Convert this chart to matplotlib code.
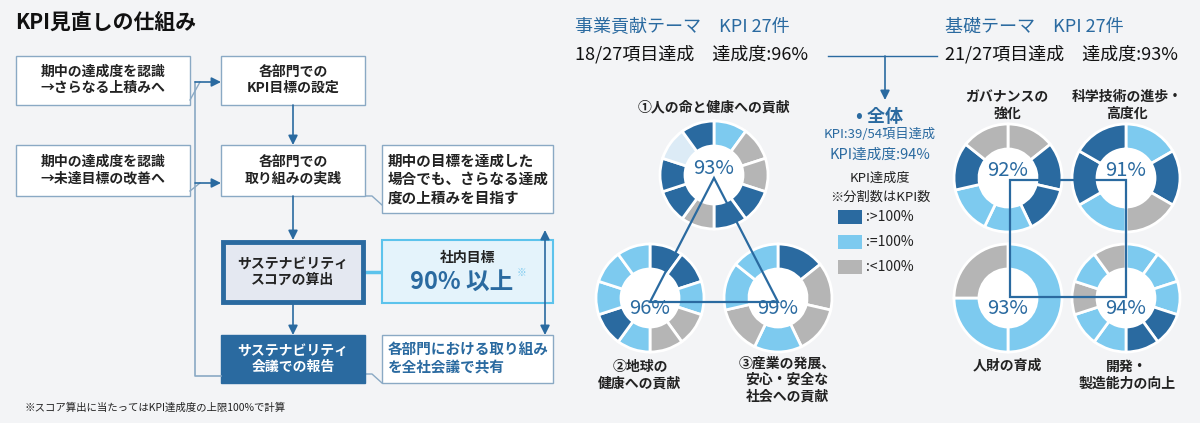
import matplotlib
matplotlib.use("Agg")
import matplotlib.pyplot as plt
from matplotlib.patches import Wedge, Rectangle, FancyArrowPatch, Polygon

FONT = "Noto Sans CJK JP"
plt.rcParams["font.family"] = FONT

DARK, LIGHT, GRAY, PALE = "#2a6aa0", "#7dcaef", "#b5b5b5", "#dcebf6"
BLUE = "#2a6aa0"
CMAP = {"d": DARK, "l": LIGHT, "g": GRAY, "p": PALE}

# ---- data ----
donut_names = ["①人の命と健康への貢献", "②地球の\n健康への貢献", "③産業の発展、\n安心・安全な\n社会への貢献",
               "ガバナンスの\n強化", "科学技術の進歩・\n高度化", "人財の育成", "開発・\n製造能力の向上"]
donut_pct = ["93%", "96%", "99%", "92%", "91%", "93%", "94%"]
# segment classes clockwise from 12 o'clock (d: >100%, l: =100%, g: <100%, p: n/a)
donut_segments = [
    ["l", "g", "g", "d", "d", "g", "d", "d", "p", "d"],
    ["d", "d", "l", "g", "g", "l", "d", "l", "l", "l"],
    ["d", "g", "g", "l", "g", "l", "l"],
    ["g", "d", "d", "l", "l", "d", "g"],
    ["l", "d", "g", "l", "d", "d"],
    ["l", "l", "g"],
    ["l", "l", "l", "d", "d", "l", "l", "g", "l", "g"],
]
donut_weights = [None, None, None, None, None, [2, 1, 1], None]
legend_labels = [":>100%", ":=100%", ":<100%"]

fig = plt.figure(figsize=(12, 4.23), dpi=100)
fig.patch.set_facecolor("#f3f4f6")
ax = fig.add_axes([0, 0, 1, 1])
ax.set_xlim(0, 1200); ax.set_ylim(423, 0); ax.axis("off")
ax.set_facecolor("#f3f4f6")

def box(x0, y0, x1, y1, fc="white", ec="#8aa9c4", lw=1.0):
    ax.add_patch(Rectangle((x0, y0), x1 - x0, y1 - y0, fc=fc, ec=ec, lw=lw, zorder=2))

def txt(x, y, s, size=10, color="#222222", ha="center", weight="bold", ls=1.2, **kw):
    ax.text(x, y, s, fontsize=size, color=color, ha=ha, va="center", fontweight=weight,
            linespacing=ls, zorder=5, **kw)

def arrow(p0, p1, style="-|>"):
    ax.add_patch(FancyArrowPatch(p0, p1, arrowstyle=style, mutation_scale=14, color=BLUE, lw=1.2,
                                 shrinkA=0, shrinkB=0, zorder=3))

# ---- left flowchart ----
txt(15, 22, "KPI見直しの仕組み", size=15, ha="left", color="#111111")
box(16, 56, 190, 105); txt(103, 80, "期中の達成度を認識\n→さらなる上積みへ")
box(16, 145, 190, 196); txt(103, 170, "期中の達成度を認識\n→未達目標の改善へ")
box(221, 56, 365, 105); txt(293, 80, "各部門での\nKPI目標の設定")
box(221, 145, 365, 196); txt(293, 170, "各部門での\n取り組みの実践")
box(223, 242, 363, 302, fc="#e4e8f1", ec=BLUE, lw=3.5); txt(293, 272, "サステナビリティ\nスコアの算出")
box(221, 335, 365, 383, fc=BLUE, ec=BLUE); txt(293, 359, "サステナビリティ\n会議での報告", color="white")
box(382, 145, 553, 213); txt(388, 179, "期中の目標を達成した\n場合でも、さらなる達成\n度の上積みを目指す", ha="left", size=10.5)
box(382, 240, 553, 303, fc="#e4f3fb", ec="#5cc3ec", lw=1.5)
txt(468, 258, "社内目標", size=10)
txt(462, 282, "90% 以上", size=17, color=BLUE)
txt(521, 273, "※", size=7, color="#7dcaef", weight="normal")
box(382, 335, 553, 383); txt(388, 358, "各部門における取り組み\nを全社会議で共有", ha="left", color=BLUE, size=10.5)
# connectors from boxes
ax.plot([365, 372, 382], [196, 196, 205], color="#8aa9c4", lw=1, zorder=1)
ax.plot([365, 372, 382], [272, 272, 272], color="#5cc3ec", lw=2.5, zorder=1)
ax.plot([365, 372, 382], [374, 374, 383], color="#8aa9c4", lw=1, zorder=1)
ax.plot([190, 200], [100, 82], color="#8aa9c4", lw=1)
ax.plot([190, 200], [191, 183], color="#8aa9c4", lw=1)
arrow((293, 105), (293, 145)); arrow((293, 196), (293, 240)); arrow((293, 303), (293, 335))
ax.plot([221, 195, 195], [376, 376, 82], color="#8aa9c4", lw=1.2)
arrow((195, 82), (221, 82)); arrow((195, 183), (221, 183))
arrow((545, 230), (545, 335), style="<|-|>")
txt(25, 408, "※スコア算出に当たってはKPI達成度の上限100%で計算", size=7.5, ha="left", weight="normal")

# ---- right: headers ----
txt(575, 27, "事業貢献テーマ　KPI 27件", size=13, ha="left", color=BLUE, weight="normal")
txt(575, 54, "18/27項目達成　達成度:96%", size=13, ha="left", color="#111111", weight="normal")
txt(945, 27, "基礎テーマ　KPI 27件", size=13, ha="left", color=BLUE, weight="normal")
txt(945, 54, "21/27項目達成　達成度:93%", size=13, ha="left", color="#111111", weight="normal")
ax.plot([828, 937], [56, 56], color=BLUE, lw=1)
arrow((885, 56), (885, 100))
txt(880, 117, "• 全体", size=13, color=BLUE)
txt(880, 135, "KPI:39/54項目達成", size=9.5, color=BLUE, weight="normal")
txt(880, 155, "KPI達成度:94%", size=10.5, color=BLUE, weight="normal")
txt(880, 178, "KPI達成度", size=9.5, weight="normal")
txt(880, 197, "※分割数はKPI数", size=9.5, weight="normal")
for i, (c, lab) in enumerate(zip([DARK, LIGHT, GRAY], legend_labels)):
    y = 217 + i * 25
    ax.add_patch(Rectangle((838, y - 7), 24, 14, fc=c, ec="none"))
    txt(866, y, lab, size=10, ha="left", weight="normal")

# ---- connecting shapes ----
ax.add_patch(Polygon([(714, 178), (650, 302), (778, 302)], closed=True, fill=False, ec=BLUE, lw=1.6, zorder=4))
ax.add_patch(Rectangle((1010, 180), 116, 117, fill=False, ec=BLUE, lw=1.6, zorder=4))

# ---- donuts ----
centers = [(714, 175), (650, 298), (778, 298), (1008, 178), (1126, 178), (1008, 298), (1126, 298)]
pct_pos = [(714, 168), (650, 308), (778, 308), (1008, 170), (1126, 170), (1008, 308), (1126, 308)]
name_pos = [(714, 107), (640, 375), (787, 380), (1007, 105), (1127, 105), (1007, 365), (1127, 375)]
R, W = 54, 25
for k, segs in enumerate(donut_segments):
    wts = donut_weights[k] or [1] * len(segs)
    tot = sum(wts); t = 0
    cx, cy = centers[k]
    for s, w in zip(segs, wts):
        t0 = t * 360 / tot; t1 = (t + w) * 360 / tot
        ax.add_patch(Wedge((cx, cy), R, t0 - 90, t1 - 90, width=W, fc=CMAP[s], ec="white", lw=2, zorder=2))
        t += w
    ax.add_patch(Wedge((cx, cy), R - W + 0.5, 0, 360, fc="white", ec="none", zorder=2))
    txt(pct_pos[k][0], pct_pos[k][1], donut_pct[k], size=14.5, color=BLUE, weight="normal")
    txt(name_pos[k][0], name_pos[k][1], donut_names[k], size=10, ls=1.25)

fig.savefig("out.png", dpi=100, facecolor=fig.get_facecolor())
